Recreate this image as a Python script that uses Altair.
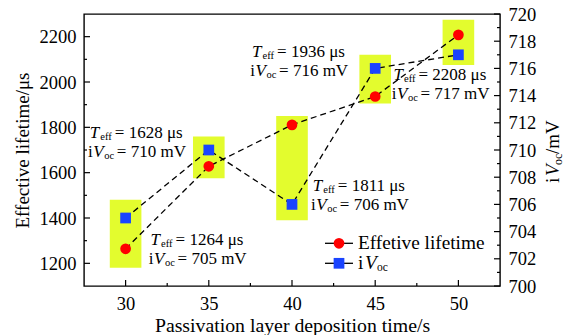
import altair as alt
import pandas as pd

# ---- data ----
time = [30, 35, 40, 45, 50]
teff = [1264, 1628, 1811, 1936, 2208]
ivoc = [705, 710, 706, 716, 717]
box_lo = [1180, 1575, 1390, 1905, 2075]
box_hi = [1480, 1760, 1850, 2120, 2275]
label_x = [31.5, 27.85, 41.25, 37.6, 46.1]
label_y = [1303, 1776, 1541, 2134, 2031]

x_ticks = [30, 35, 40, 45, 50]
x_minor = [32.5, 37.5, 42.5, 47.5]
left_ticks = [1200, 1400, 1600, 1800, 2000, 2200]
left_minor = [1300, 1500, 1700, 1900, 2100]
right_ticks = [700, 702, 704, 706, 708, 710, 712, 714, 716, 718, 720]
right_minor = [701, 703, 705, 707, 709, 711, 713, 715, 717, 719]

FONT = "Liberation Serif"
YELLOW = "#e3fc2e"
RED = "#ff0000"
BLUE = "#1a44ff"
W, H = 416, 272

xs = alt.Scale(domain=[27.5, 52.5], nice=False, zero=False)
ysl = alt.Scale(domain=[1100, 2300], nice=False, zero=False)
ysr = alt.Scale(domain=[700, 720], nice=False, zero=False)

x_axis = alt.Axis(values=x_ticks, title="Passivation layer deposition time/s", format="d",
                  titlePadding=3, labelPadding=8, titleFontSize=19.8)
left_axis = alt.Axis(values=left_ticks, title="Effective lifetime/μs", orient="left", format="d",
                     titlePadding=7, labelPadding=8)
right_axis = alt.Axis(values=right_ticks, title="", orient="right", format="d", labelPadding=8)


def X(field):
    return alt.X(field, scale=xs, axis=x_axis)


def YL(field):
    return alt.Y(field, scale=ysl, axis=left_axis)


def YR(field):
    return alt.Y(field, scale=ysr, axis=right_axis)


df = pd.DataFrame({"time": time, "teff": teff, "ivoc": ivoc, "lo": box_lo, "hi": box_hi})
df_lab = pd.DataFrame({
    "lx": label_x, "ly": label_y,
    "t_txt": [f"= {v} μs" for v in teff],
    "v_txt": [f"= {v} mV" for v in ivoc],
})
one = pd.DataFrame({"d": [0]})

rects = alt.Chart(df).transform_calculate(
    xa="datum.time - 0.95", xb="datum.time + 0.95"
).mark_rect(color=YELLOW).encode(x=X("xa:Q"), x2="xb:Q", y=YL("lo:Q"), y2="hi:Q")

red_line = alt.Chart(df).mark_line(color="black", strokeDash=[6, 4], strokeWidth=1.3).encode(
    x=X("time:Q"), y=YL("teff:Q"))
red_pts = alt.Chart(df).mark_point(shape="circle", filled=True, color=RED, size=115, opacity=1).encode(
    x=X("time:Q"), y=YL("teff:Q"))


def txt(text_enc, dx, dy, size, italic=False):
    return alt.Chart(df_lab).mark_text(
        align="left", baseline="middle", dx=dx, dy=dy, fontSize=size, font=FONT,
        fontStyle="italic" if italic else "normal", color="black"
    ).encode(x=X("lx:Q"), y=YL("ly:Q"), text=text_enc)


LS = 19
AF = 17
texts = [
    txt(alt.value("T"), 0, 0, AF, True),
    txt(alt.value("eff"), 10.5, 4, 10.5),
    txt("t_txt:N", 25, 0, AF),
    txt(alt.value("i"), -1.7, LS, AF),
    txt(alt.value("V"), 3.5, LS, AF, True),
    txt(alt.value("oc"), 14.5, LS + 4, 10.5),
    txt("v_txt:N", 27, LS, AF),
]

tick_style = dict(color="black", strokeWidth=1.2)
lt_major = alt.Chart(pd.DataFrame({"t": left_ticks})).mark_rule(**tick_style).encode(
    y=YL("t:Q"), x=alt.value(0), x2=alt.value(6))
lt_minor = alt.Chart(pd.DataFrame({"t": left_minor})).mark_rule(**tick_style).encode(
    y=YL("t:Q"), x=alt.value(0), x2=alt.value(3))
xt_major = alt.Chart(pd.DataFrame({"t": x_ticks})).mark_rule(**tick_style).encode(
    x=X("t:Q"), y=alt.value(H), y2=alt.value(H - 6))
xt_minor = alt.Chart(pd.DataFrame({"t": x_minor})).mark_rule(**tick_style).encode(
    x=X("t:Q"), y=alt.value(H), y2=alt.value(H - 3))

left_group = alt.layer(rects, red_line, red_pts, *texts, lt_major, lt_minor, xt_major, xt_minor)

blue_line = alt.Chart(df).mark_line(color="black", strokeDash=[6, 4], strokeWidth=1.3).encode(
    x=X("time:Q"), y=YR("ivoc:Q"))
blue_pts = alt.Chart(df).mark_point(shape="square", filled=True, color=BLUE, size=115, opacity=1).encode(
    x=X("time:Q"), y=YR("ivoc:Q"))
rt_major = alt.Chart(pd.DataFrame({"t": right_ticks})).mark_rule(**tick_style).encode(
    y=YR("t:Q"), x=alt.value(W), x2=alt.value(W - 6))
rt_minor = alt.Chart(pd.DataFrame({"t": right_minor})).mark_rule(**tick_style).encode(
    y=YR("t:Q"), x=alt.value(W), x2=alt.value(W - 3))

# legend (manual)
L1, L2 = 229.3, 249.3
LF = 19.3
leg = [
    alt.Chart(one).mark_rule(color="black", strokeWidth=1.3).encode(
        x=alt.value(241), x2=alt.value(269), y=alt.value(L1)),
    alt.Chart(one).mark_point(shape="circle", filled=True, color=RED, size=115, opacity=1).encode(
        x=alt.value(255), y=alt.value(L1)),
    alt.Chart(one).mark_text(align="left", baseline="middle", font=FONT, fontSize=LF, color="black").encode(
        x=alt.value(274), y=alt.value(L1), text=alt.value("Effetive lifetime")),
    alt.Chart(one).mark_rule(color="black", strokeWidth=1.3).encode(
        x=alt.value(241), x2=alt.value(269), y=alt.value(L2)),
    alt.Chart(one).mark_point(shape="square", filled=True, color=BLUE, size=115, opacity=1).encode(
        x=alt.value(255), y=alt.value(L2)),
    alt.Chart(one).mark_text(align="left", baseline="middle", font=FONT, fontSize=LF, color="black").encode(
        x=alt.value(274), y=alt.value(L2), text=alt.value("i")),
    alt.Chart(one).mark_text(align="left", baseline="middle", font=FONT, fontSize=LF, fontStyle="italic",
                             color="black").encode(
        x=alt.value(281), y=alt.value(L2), text=alt.value("V")),
    alt.Chart(one).mark_text(align="left", baseline="middle", font=FONT, fontSize=11.5, color="black").encode(
        x=alt.value(293), y=alt.value(L2 + 5), text=alt.value("oc")),
]

# right axis title (manual, rotated)
RX, RY = W + 53, 169


def rt(text, dx, dy, size, italic=False):
    return alt.Chart(one).mark_text(
        align="left", baseline="middle", angle=270, dx=dx, dy=dy, font=FONT, fontSize=size,
        fontStyle="italic" if italic else "normal", color="black"
    ).encode(x=alt.value(RX), y=alt.value(RY), text=alt.value(text))


rtitle = [rt("i", 0, 0, 19), rt("V", 7, 0, 19, True), rt("oc", 18, 5, 12), rt("/mV", 29, 0, 19)]

right_group = alt.layer(blue_line, blue_pts, rt_major, rt_minor, *leg, *rtitle)

chart = alt.layer(left_group, right_group).resolve_scale(y="independent").properties(
    width=W, height=H,
    padding={"left": 84, "top": 14, "right": 66, "bottom": 49},
    autosize=alt.AutoSizeParams(type="none"),
    background="white",
).configure_view(stroke="black", strokeWidth=1.4).configure_axis(
    labelFont=FONT, titleFont=FONT, labelFontSize=18.5, titleFontSize=19,
    titleFontWeight="normal", labelColor="black", titleColor="black",
    ticks=False, domain=False, grid=False,
)

chart.save("out.html", embed_options={"renderer": "svg", "actions": False})
